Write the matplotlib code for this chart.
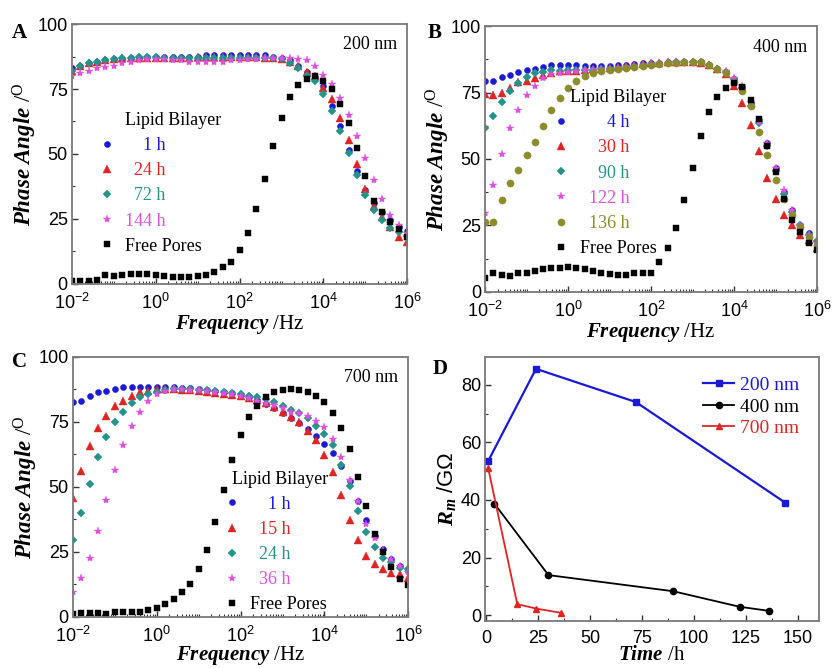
import matplotlib
matplotlib.use("Agg")
import matplotlib.pyplot as plt
from matplotlib.ticker import FixedLocator, FixedFormatter, LogLocator, NullFormatter, MultipleLocator

plt.rcParams['font.family'] = ['Liberation Serif', 'DejaVu Serif']
plt.rcParams['mathtext.fontset'] = 'custom'
plt.rcParams['mathtext.rm'] = 'Liberation Serif'
plt.rcParams['mathtext.it'] = 'Liberation Serif:italic'
plt.rcParams['mathtext.bf'] = 'Liberation Serif:bold'
plt.rcParams['mathtext.bfit'] = 'Liberation Serif:italic:bold'
plt.rcParams['mathtext.sf'] = 'Liberation Sans'

# measurement frequencies, Hz (5 per decade)
freq = [0.01, 0.0158, 0.0251, 0.0398, 0.0631,
        0.1, 0.158, 0.251, 0.398, 0.631,
        1, 1.58, 2.51, 3.98, 6.31,
        10, 15.8, 25.1, 39.8, 63.1,
        100, 158, 251, 398, 631,
        1e3, 1.58e3, 2.51e3, 3.98e3, 6.31e3,
        1e4, 1.58e4, 2.51e4, 3.98e4, 6.31e4,
        1e5, 1.58e5, 2.51e5, 3.98e5, 6.31e5, 1e6]

# panel A, 200 nm
a_1h = [83, 84, 85, 85.5, 86, 86.5, 86.5, 87, 87, 87.5, 87.5, 87.5, 87.5, 87.5, 87.5, 87.5, 88, 88, 88, 88,
        88, 88, 88, 88, 87.5, 87, 86, 84, 81.5, 79.5, 76, 68.4, 60.7, 51.7, 43.3, 36, 31, 27.5, 24.5, 22, 20.4]
a_24h = [82, 84, 85, 85.5, 86, 86.5, 87, 87, 87, 87, 87, 87, 87, 87, 87, 87.5, 87.5, 87.5, 87.5, 87.5,
         87.5, 87.5, 87.5, 87, 87, 86.5, 85.5, 84, 81.5, 80, 75.5, 71, 64, 55.5, 46, 36.5, 30, 25.7, 22, 18, 16]
a_72h = [82, 84, 85, 85.5, 86, 86.5, 87, 87, 87.5, 87.5, 87.5, 87, 87, 87, 87, 87, 87, 87, 87, 87,
         87, 87, 87, 87, 87, 86.5, 85, 83, 80, 78, 73, 66.5, 59, 50.5, 42, 34.3, 28.3, 24.4, 21.5, 20, 18.5]
a_144h = [80, 81, 82, 83, 83.5, 84, 85, 85.5, 86, 86.5, 86.5, 86.5, 86, 86, 85.5, 85.5, 85.5, 85.5, 85.5, 86,
          86, 86.5, 86.5, 87, 87, 87, 87, 86.5, 86, 84, 80.5, 77, 71.5, 65, 57, 48.5, 40, 32.5, 26.5, 22.5, 19.5]
a_free = [1, 1.2, 1.3, 1.5, 3.3, 3, 3.5, 3.8, 4, 3.7, 3.3, 3, 2.8, 2.7, 2.8, 3, 3.5, 4.4, 6.4, 8.6,
          12.9, 19.5, 28.7, 40.4, 53, 64, 72, 76.6, 79, 80, 78, 75, 69.2, 61.8, 52.2, 41.7, 32, 27.5, 24, 21, 18]

# panel B, 400 nm
b_4h = [79.5, 79.2, 80.7, 81.6, 82.8, 83.5, 83.8, 84.7, 85.2, 85.5, 85.5, 85.2, 85, 85, 85, 85, 85.2, 85.5, 85.7, 86,
        86, 86.2, 86.3, 86.5, 86.5, 86.5, 86.3, 85.3, 84, 82.8, 80, 77, 71, 64.7, 56, 46.5, 37.7, 30.8, 25.2, 22, 19.3]
b_30h = [74.3, 74, 74.7, 76.6, 79, 79.5, 80.3, 81.6, 82.5, 83, 83, 83.2, 83.5, 83.8, 84, 84.3, 84.6, 85, 85.3, 85.6,
         86, 86.2, 86.4, 86.5, 86.5, 86.5, 86.2, 85.3, 84, 82, 77.4, 71, 62.8, 53, 43, 34.8, 29, 25, 21.4, 19.5, 16.4]
b_90h = [61.5, 66, 71.5, 75.7, 78.5, 80.7, 82.2, 82.8, 83.5, 83.2, 83.5, 83.5, 83.5, 83.5, 83.7, 84, 84, 84.3, 84.6, 85,
         85.3, 85.7, 86, 86.3, 86.5, 86.5, 86.3, 85.3, 84, 82.8, 80, 76.6, 70, 63.5, 55, 45.5, 37, 30, 25, 21.5, 19]
b_122h = [29.6, 40.2, 52, 61.5, 68.4, 74, 77.4, 80.3, 82, 82.5, 82.8, 83, 83.3, 83.5, 83.7, 84, 84.3, 84.6, 85, 85.3,
          85.6, 86, 86.2, 86.4, 86.5, 86.5, 86.3, 85.3, 84, 83, 80.5, 77.5, 71.5, 64, 56, 46.5, 38.3, 30.8, 25.2, 21.4, 18.5]
b_136h = [26.4, 26.4, 34.6, 41, 46, 51.5, 56.5, 62.4, 68.4, 73, 76.6, 79.5, 81.2, 82.2, 83, 83.4, 83.8, 84.2, 84.6, 85,
          85.3, 85.6, 86, 86.2, 86.4, 86.5, 86.3, 85.3, 84, 82.5, 79, 75.5, 70, 60.3, 51.5, 42, 34.8, 29, 24.6, 20.6, 17.7]
b_free = [5.1, 7.3, 6.4, 5.8, 7, 7.3, 8, 8.5, 8.9, 9.1, 9.3, 8.9, 8.5, 8, 7.3, 6.8, 6.4, 6.4, 7.3, 7.3,
          7.3, 11.4, 16.4, 23.9, 34.6, 46.5, 58.6, 67.5, 73.4, 76.6, 78.5, 77, 72, 65, 55, 45, 35, 27, 22.5, 18.5, 15.8]

# panel C, 700 nm
c_1h = [82.7, 82.8, 85, 86.3, 86.9, 87.5, 88.2, 88.4, 88.5, 88.5, 88.5, 88.4, 88.2, 88, 87.8, 87.5, 87.3, 86.9, 86.3, 86,
        85.2, 84.4, 83.5, 81.8, 80.2, 78.2, 76.5, 74.5, 72, 69.3, 66.5, 63, 58, 52, 44.5, 37, 31, 26, 22, 19.5, 17.5]
c_15h = [45.5, 56, 65.6, 72.5, 77.3, 80.9, 83.1, 85, 86.3, 86.9, 87.5, 87.5, 87.5, 87.3, 87, 86.8, 86.5, 86.2, 85.8, 85.3,
         84.7, 84, 83.2, 82.2, 80.5, 78.6, 76.7, 75, 71.5, 67.8, 62, 55.7, 46.6, 37.3, 29.3, 23.3, 20.1, 18.2, 16.9, 16.3, 15]
c_24h = [29.6, 39.8, 51, 61.5, 69, 75, 78.6, 82.2, 84.4, 85.6, 86.5, 87.3, 87.5, 87.5, 87.5, 87.3, 87.1, 86.8, 86.5, 86,
         85.6, 85, 84.4, 83.7, 82.4, 81.2, 79.5, 78.2, 76.3, 73.5, 70.4, 65.9, 58.5, 50.4, 40.7, 32.4, 26.7, 22.6, 21.1, 18.6, 18.2]
c_36h = [9.3, 14.8, 22.6, 33, 44.9, 56.4, 66.2, 73.5, 78.9, 83.1, 85.6, 86.9, 87.5, 87.5, 87.3, 87, 86.8, 86.5, 86, 85.5,
         85, 84, 83, 82.2, 81.4, 80.4, 78.9, 78.4, 77.1, 75.1, 72.9, 68.4, 61.5, 52.5, 44.3, 35.6, 30.3, 25.8, 22, 19.5, 17.3]
c_free = [1, 1.3, 1.3, 1.3, 0.8, 1.7, 1.7, 1.7, 1.9, 2.5, 3.3, 4.8, 6.7, 9.3, 12.7, 18.2, 25.8, 36.4, 48.7, 60.4,
          70, 76.7, 81.2, 84.4, 86.3, 87.3, 87.5, 87.3, 86.3, 84.7, 82.4, 78.4, 72.5, 64.4, 53.8, 42.4, 31.8, 25, 19, 14.5, 12]

# panel D, membrane resistance vs time
t_200 = [1, 24, 72, 144]
rm_200 = [53.5, 85.5, 74, 39]
t_400 = [4, 30, 90, 122, 136]
rm_400 = [38.7, 13.9, 8.3, 2.9, 1.5]
t_700 = [1, 15, 24, 36]
rm_700 = [51, 3.8, 2.3, 0.8]

BLUE = '#1a1ad6'
RED = '#e02424'
TEAL = '#24948a'
MAG = '#e050e0'
OLIVE = '#8c8c2a'
BLACK = '#000000'
FRAME = '#7a7a7a'

sty = {
    'o': dict(marker='o', ms=4.4),
    '^': dict(marker='^', ms=5.2),
    'D': dict(marker='D', ms=4),
    '*': dict(marker='*', ms=6),
    'O': dict(marker='o', ms=5.2),
    's': dict(marker='s', ms=4.2),
}

fig = plt.figure(figsize=(8.32, 6.68), dpi=100)


def style_axes(ax):
    for sp in ax.spines.values():
        sp.set_color(FRAME)
        sp.set_linewidth(1.3)
    ax.tick_params(which='both', direction='in', top=False, right=False, color='#333333')
    ax.tick_params(which='major', length=4, width=1, labelsize=13)
    ax.tick_params(which='minor', length=2.2, width=0.8)
    ax.tick_params(axis='x', which='major', pad=6.5)
    ax.tick_params(axis='y', which='major', pad=3)
    for lab in ax.get_xticklabels() + ax.get_yticklabels():
        lab.set_family(['Liberation Sans', 'DejaVu Sans'])


def phase_axes(rect, series, labels, title, size_text, letter, letter_xy, leg_anchor, xpad=0):
    ax = fig.add_axes(rect)
    handles = []
    for (y, col, m) in series:
        h, = ax.plot(freq, y, linestyle='none', color=col, mec=col, mfc=col, mew=0.3, **sty[m])
        handles.append(h)
    ax.set_xscale('log')
    ax.set_xlim(0.01, 1e6)
    ax.set_ylim(0, 100)
    ax.xaxis.set_major_locator(FixedLocator([1e-2, 1, 1e2, 1e4, 1e6]))
    ax.xaxis.set_major_formatter(FixedFormatter([r'$\mathsf{10^{-2}}$', r'$\mathsf{10^{0}}$', r'$\mathsf{10^{2}}$',
                                                 r'$\mathsf{10^{4}}$', r'$\mathsf{10^{6}}$']))
    ax.xaxis.set_minor_locator(LogLocator(base=10, subs=range(1, 10), numticks=30))
    ax.xaxis.set_minor_formatter(NullFormatter())
    ax.yaxis.set_major_locator(MultipleLocator(25))
    ax.yaxis.set_minor_locator(MultipleLocator(12.5))
    style_axes(ax)
    ax.set_xlabel(r'$\mathbfit{Frequency}$ /Hz', fontsize=15, labelpad=xpad)
    ax.set_ylabel(r'$\mathbfit{Phase\ Angle}$ /$^{\mathrm{O}}$', fontsize=16.5, labelpad=-1)
    ax.legend(handles, labels, loc='upper left', bbox_to_anchor=leg_anchor, frameon=False,
              title=title, title_fontsize=13, fontsize=13, alignment='left',
              handlelength=1.0, handletextpad=0.5, labelspacing=0.45, borderpad=0.2,
              labelcolor=[s[1] for s in series])
    ax.text(0.97, 0.92, size_text, transform=ax.transAxes, ha='right', va='center', fontsize=13)
    fig.text(letter_xy[0], letter_xy[1], letter, fontsize=15, fontweight='bold', ha='center', va='center')
    return ax


phase_axes([0.0865, 0.575, 0.403, 0.389],
           [(a_1h, BLUE, 'o'), (a_24h, RED, '^'), (a_72h, TEAL, 'D'), (a_144h, MAG, '*'), (a_free, BLACK, 's')],
           ['    1 h', '  24 h', '  72 h', '144 h', 'Free Pores'], '      Lipid Bilayer',
           '200 nm', 'A', (0.023, 0.95), (0.04, 0.71))

phase_axes([0.583, 0.563, 0.399, 0.398],
           [(b_4h, BLUE, 'o'), (b_30h, RED, '^'), (b_90h, TEAL, 'D'), (b_122h, MAG, '*'), (b_136h, OLIVE, 'O'),
            (b_free, BLACK, 's')],
           ['      4 h', '    30 h', '    90 h', '  122 h', '  136 h', 'Free Pores'], '    Lipid Bilayer',
           '400 nm', 'B', (0.522, 0.95), (0.165, 0.81))

phase_axes([0.0877, 0.077, 0.403, 0.389],
           [(c_1h, BLUE, 'o'), (c_15h, RED, '^'), (c_24h, TEAL, 'D'), (c_36h, MAG, '*'), (c_free, BLACK, 's')],
           ['    1 h', '  15 h', '  24 h', '  36 h', 'Free Pores'], '  Lipid Bilayer',
           '700 nm', 'C', (0.023, 0.458), (0.41, 0.61), xpad=-1)

# panel D
axd = fig.add_axes([0.583, 0.0705, 0.401, 0.395])
l1, = axd.plot(t_200, rm_200, color=BLUE, lw=1.6, marker='s', ms=4.5)
l2, = axd.plot(t_400, rm_400, color=BLACK, lw=1.3, marker='o', ms=4.5)
l3, = axd.plot(t_700, rm_700, color=RED, lw=1.3, marker='^', ms=5)
axd.set_xlim(-0.5, 160)
axd.set_ylim(-2, 89.6)
axd.xaxis.set_major_locator(MultipleLocator(25))
axd.xaxis.set_minor_locator(MultipleLocator(12.5))
axd.yaxis.set_major_locator(MultipleLocator(20))
axd.yaxis.set_minor_locator(MultipleLocator(10))
style_axes(axd)
axd.set_xlabel(r'$\mathbfit{Time}$ /h', fontsize=15, labelpad=-1)
axd.set_ylabel(r'$\mathbfit{R}_{\mathbfit{m}}$ $\mathsf{/G\Omega}$', fontsize=16, labelpad=2)
axd.legend([l1, l2, l3], ['200 nm', '400 nm', '700 nm'], loc='upper right', frameon=False, fontsize=14,
           handlelength=1.6, handletextpad=0.3, labelspacing=0.2, borderpad=0.5,
           labelcolor=[BLUE, BLACK, RED])
fig.text(0.529, 0.447, 'D', fontsize=15, fontweight='bold', ha='center', va='center')

fig.savefig('out.png', dpi=100)
